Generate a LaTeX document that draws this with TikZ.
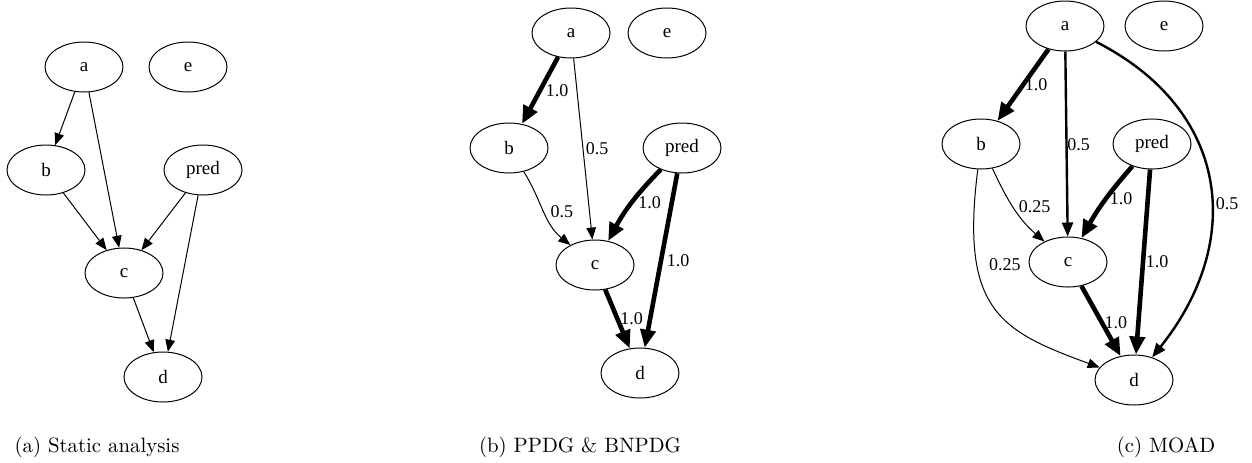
\documentclass[tikz,border=0pt]{standalone}
\usepackage{fontspec}
\newfontfamily\gvfont{Liberation Serif}
\usetikzlibrary{arrows.meta,shapes.geometric}
\begin{document}
\begin{tikzpicture}[x=0.5pt,y=-0.5pt,
  gv/.style={ellipse, draw, line width=0.5pt, minimum width=39pt, minimum height=25pt, inner sep=0pt, font=\gvfont\fontsize{9.5}{11}\selectfont},
  lbl/.style={font=\gvfont\fontsize{9}{10}\selectfont, inner sep=0pt},
  wthin/.style={line width=0.5pt, -{Triangle[length=6pt,width=4.8pt]}},
  wmid/.style={line width=1.2pt, -{Triangle[length=7pt,width=5.5pt]}},
  wthick/.style={line width=2.3pt, -{Triangle[length=9pt,width=7.5pt]}},
  captxt/.style={font=\fontsize{10.4}{12}\selectfont, inner sep=0pt}
]
\useasboundingbox (0,0) rectangle (1252,462);

% panel (a)
\node[gv] (a1) at (84,67) {a};
\node[gv] (e1) at (188,67) {e};
\node[gv] (b1) at (46,170) {b};
\node[gv] (p1) at (203,170) {pred};
\node[gv] (c1) at (124,273) {c};
\node[gv] (d1) at (163,377) {d};
\draw[wthin] (a1) -- (b1);
\draw[wthin] (a1) -- (c1);
\draw[wthin] (b1) -- (c1);
\draw[wthin] (p1) -- (c1);
\draw[wthin] (p1) -- (d1);
\draw[wthin] (c1) -- (d1);

% panel (b)
\node[gv] (a2) at (571,33) {a};
\node[gv] (e2) at (667,33) {e};
\node[gv] (b2) at (509,148) {b};
\node[gv] (p2) at (682,148) {pred};
\node[gv] (c2) at (595,265) {c};
\node[gv] (d2) at (640,373) {d};
\draw[wthick] (a2) -- node[lbl,pos=0.5,xshift=8.5pt]{1.0} (b2);
\draw[wthin] (a2) -- node[lbl,pos=0.5,xshift=7pt]{0.5} (c2);
\draw[wthin] (b2) to[out=-58,in=141] node[lbl,pos=0.5,xshift=9pt]{0.5} (c2);
\draw[wthick] (p2) to[bend right=8] node[lbl,pos=0.5,xshift=9pt]{1.0} (c2);
\draw[wthick] (p2) -- node[lbl,pos=0.5,xshift=8.5pt]{1.0} (d2);
\draw[wthick] (c2) -- node[lbl,pos=0.5,xshift=7pt]{1.0} (d2);

% panel (c)
\node[gv] (a3) at (1065,26) {a};
\node[gv] (e3) at (1164,26) {e};
\node[gv] (b3) at (981,144) {b};
\node[gv] (p3) at (1152,144) {pred};
\node[gv] (c3) at (1068,262) {c};
\node[gv] (d3) at (1134,380) {d};
\draw[wthick] (a3) -- node[lbl,pos=0.5,xshift=6.5pt]{1.0} (b3);
\draw[wmid] (a3) -- node[lbl,pos=0.505,xshift=6pt]{0.5} (c3);
\draw[wmid] (a3) .. controls (1230,110) and (1245,241) .. (d3) node[lbl,pos=0.565,xshift=8pt]{0.5};
\draw[wthin] (b3) to[out=-65,in=139] node[lbl,pos=0.47,xshift=11pt]{0.25} (c3);
\draw[wthin] (b3) .. controls (960,310) and (1000,331) .. (d3) node[lbl,pos=0.29,xshift=14pt]{0.25};
\draw[wthick] (p3) to[bend right=6] node[lbl,pos=0.47,xshift=7.5pt]{1.0} (c3);
\draw[wthick] (p3) -- node[lbl,pos=0.5,xshift=7pt]{1.0} (d3);
\draw[wthick] (c3) -- node[lbl,pos=0.52,xshift=7pt]{1.0} (d3);

% captions
\node[captxt] (capa) at (97,447) {(a) Static analysis};
\node[captxt] (capb) at (580,447) {(b) PPDG \& BNPDG};
\node[captxt] (capc) at (1166,447) {(c) MOAD};
\end{tikzpicture}
\end{document}
